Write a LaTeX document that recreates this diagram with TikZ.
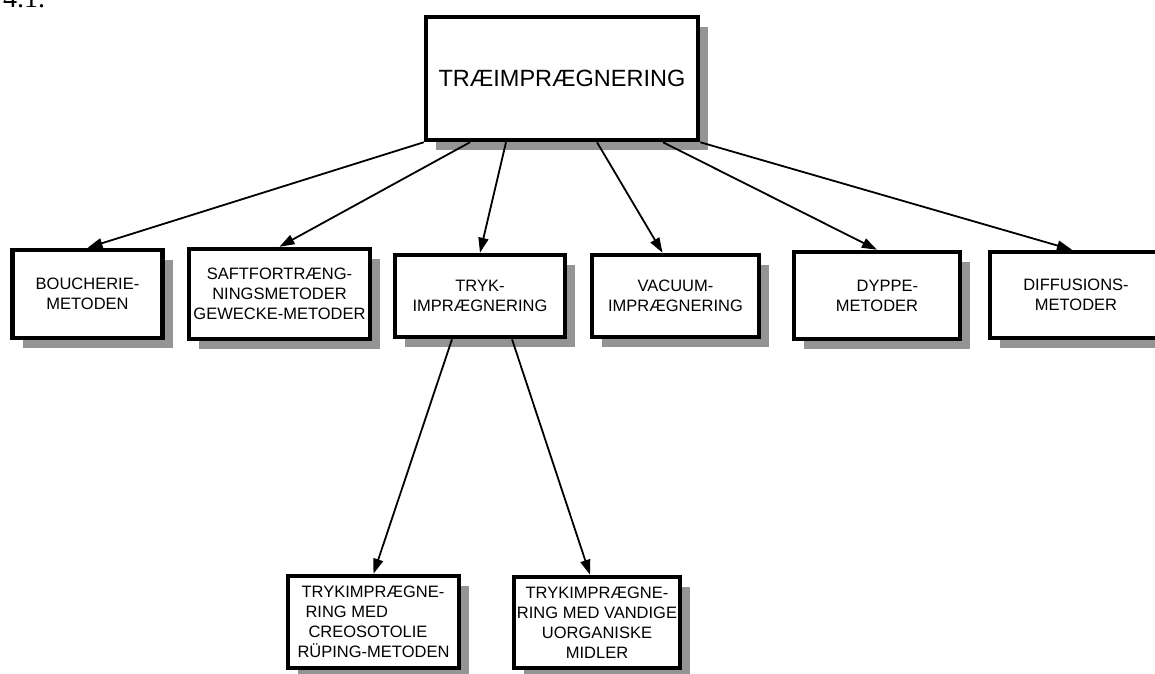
\documentclass[tikz,border=0pt]{standalone}
\usepackage{fontspec}
\setmainfont{Liberation Sans}
\newfontfamily\nrfont{Liberation Serif}
\usetikzlibrary{arrows.meta,shadows}

\begin{document}
\begin{tikzpicture}[x=1pt, y=-1pt,
                box/.style={rectangle, draw, line width=4.5pt, fill=white, align=center, inner sep=2pt,
                        font=\fontsize{16.5}{20}\selectfont,
                        drop shadow={shadow xshift=10pt, shadow yshift=-10pt, fill=black!42, opacity=1}},
                pil/.style={-{Triangle[length=15pt,width=10pt]}, line width=1.8pt}]
                \useasboundingbox (0,0) rectangle (1155,673);
                \node[anchor=base west, inner sep=0pt, font=\nrfont\fontsize{28}{30}\selectfont] (nr) at (3,7) {4.1.};
                \node[box, minimum width=272pt, minimum height=123pt, font=\fontsize{23.5}{28}\selectfont] (top) at (562,78.5) {TRÆIMPRÆGNERING};
                \node[box, minimum width=150pt, minimum height=88pt] (bou) at (87.5,294) {BOUCHERIE-\\METODEN};
                \node[box, minimum width=181pt, minimum height=90pt] (saft) at (279.5,294) {SAFTFORTRÆNG-\\NINGSMETODER\\GEWECKE-METODER};
                \node[box, minimum width=170pt, minimum height=82pt] (tryk) at (480,296) {TRYK-\\IMPRÆGNERING};
                \node[box, minimum width=167pt, minimum height=82pt] (vac) at (675.5,296) {VACUUM-\\IMPRÆGNERING};
                \node[box, minimum width=166pt, minimum height=87pt, align=right] (dyp) at (877,295.5) {DYPPE-\\METODER};
                \node[box, minimum width=172pt, minimum height=86pt] (dif) at (1076,295) {DIFFUSIONS-\\METODER};
                \node[box, minimum width=171pt, minimum height=92pt, align=left] (creo) at (373.5,622) {\hspace*{4pt}TRYKIMPRÆGNE-\\\hspace*{8pt}RING MED\\\hspace*{11pt}CREOSOTOLIE\\RÜPING-METODEN};
                \node[box, minimum width=166pt, minimum height=91pt] (van) at (597,622.5) {TRYKIMPRÆGNE-\\RING MED VANDIGE\\UORGANISKE\\MIDLER};
                \draw[pil] (top.south west) -- (bou.north);
                \draw[pil] ([xshift=-92pt]top.south) -- (saft.north);
                \draw[pil] ([xshift=-56pt]top.south) -- (tryk.north);
                \draw[pil] ([xshift=35pt]top.south) -- ([xshift=-13pt]vac.north);
                \draw[pil] ([xshift=101pt]top.south) -- (dyp.north);
                \draw[pil] (top.south east) -- ([xshift=-4pt]dif.north);
                \draw[pil] ([xshift=-28pt]tryk.south) -- (creo.north);
                \draw[pil] ([xshift=32pt]tryk.south) -- ([xshift=-7pt]van.north);
                \end{tikzpicture}
\end{document}
